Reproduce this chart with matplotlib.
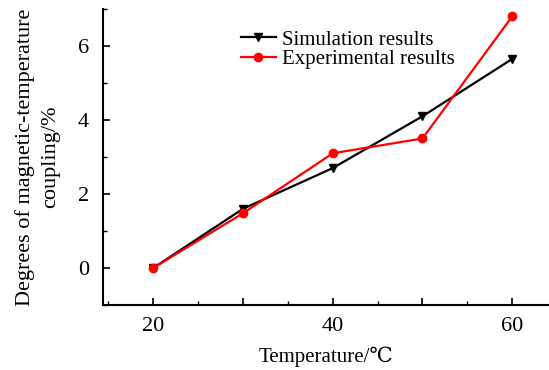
import matplotlib
matplotlib.use("Agg")
import matplotlib.pyplot as plt
from matplotlib.ticker import MultipleLocator, FuncFormatter

temperature = [20, 30, 40, 50, 60]
simulation = [0.0, 1.6, 2.7, 4.1, 5.65]
experimental = [0.0, 1.48, 3.1, 3.5, 6.8]

plt.rcParams['font.family'] = ['Liberation Serif', 'DejaVu Serif', 'DejaVu Sans']

fig = plt.figure(figsize=(5.49, 3.70), dpi=100)
ax = fig.add_axes([0.1876, 0.1757, 0.8124, 0.80])

ax.plot(temperature, simulation, color='black', lw=1.6, marker='v', ms=6,
        label='Simulation results', zorder=3)
ax.plot(temperature, experimental, color='red', lw=1.6, marker='o', ms=6,
        label='Experimental results', zorder=4)

ax.set_xlim(14.4, 64.1)
ax.set_ylim(-1, 7)
ax.spines['top'].set_visible(False)
ax.spines['right'].set_visible(False)
for s in ('left', 'bottom'):
    ax.spines[s].set_linewidth(1.5)

ax.xaxis.set_major_locator(MultipleLocator(10))
ax.xaxis.set_minor_locator(MultipleLocator(5))
ax.xaxis.set_major_formatter(FuncFormatter(lambda v, p: f"{int(round(v))}" if int(round(v)) % 20 == 0 else ""))
ax.yaxis.set_major_locator(MultipleLocator(2))
ax.yaxis.set_minor_locator(MultipleLocator(1))
ax.tick_params(axis='both', which='major', direction='in', length=5, width=1.2, labelsize=16)
ax.tick_params(axis='x', which='major', pad=9)
ax.tick_params(axis='y', which='major', pad=10)
ax.tick_params(axis='both', which='minor', direction='in', length=3, width=1.0)

ax.set_xlabel('Temperature/℃', fontsize=15, labelpad=7)
ax.set_ylabel('Degrees of magnetic-temperature\ncoupling/%', fontsize=16, labelpad=13,
              linespacing=1.4)

leg = ax.legend(loc='upper left', bbox_to_anchor=(0.276, 0.978), frameon=False,
                fontsize=15, handlelength=1.7, handletextpad=0.3, labelspacing=0.0,
                borderpad=0.2)

fig.savefig('out.png', dpi=100)
